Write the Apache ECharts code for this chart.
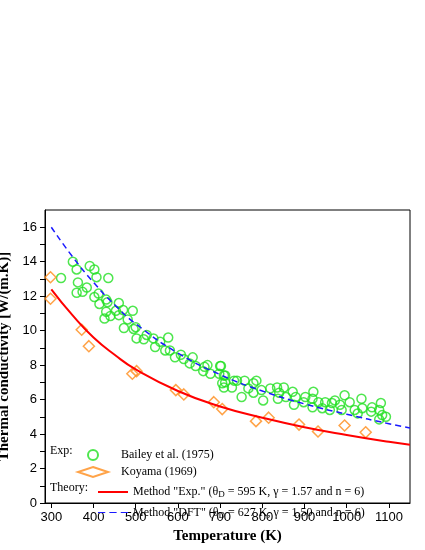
<!DOCTYPE html>
<html>
<head>
<meta charset="utf-8">
<script src="https://cdn.jsdelivr.net/npm/echarts@6/dist/echarts.min.js"></script>
<style>html,body{margin:0;padding:0;background:#fff}#c{width:425px;height:550px}</style>
</head>
<body>
<div id="c"></div>
<script>
// Bailey et al. (1975)
var baileyT = [351,360,391,402,407,435,323,363,360,374,384,412,402,430,433,414,460,430,453,470,493,440,426,460,481,472,495,500,502,519,526,542,558,546,577,570,581,593,607,614,635,628,642,663,670,660,700,677,698,712,733,705,728,
  702,709,712,709,740,758,751,779,786,767,779,798,802,819,835,851,840,856,837,872,879,875,902,898,921,919,933,919,942,949,965,972,960,984,995,988,1007,1019,1035,1026,1037,1060,1058,1081,1077,1084,1077,1093];
var baileyK = [14.0,13.55,13.75,13.55,13.1,13.05,13.05,12.8,12.2,12.25,12.5,12.15,11.95,11.8,11.65,11.55,11.6,11.1,11.15,11.2,11.15,10.85,10.7,10.9,10.65,10.15,10.1,10.2,9.55,9.5,9.75,9.55,9.35,9.05,9.6,8.85,8.85,8.45,8.6,8.35,8.45,8.1,7.95,7.9,8.0,7.65,7.95,7.5,7.5,7.4,7.1,6.95,6.7,
  7.95,7.4,7.0,6.7,7.1,7.1,6.15,6.95,7.1,6.65,6.4,6.55,5.95,6.65,6.7,6.7,6.4,6.15,6.05,6.45,6.15,5.7,6.15,5.85,6.45,6.05,5.85,5.55,5.5,5.85,5.8,5.95,5.4,5.7,6.25,5.4,5.85,5.4,6.05,5.2,5.5,5.55,5.3,5.8,5.4,5.1,4.85,5.0];
// Koyama (1969)
var koyamaT = [298,298,372,389,492,502,595,614,685,705,785,815,887,932,995,1045];
var koyamaK = [13.1,11.85,10.05,9.1,7.5,7.65,6.55,6.3,5.85,5.45,4.75,4.95,4.55,4.15,4.5,4.1];
// Theory curves
var expT = [300,350,400,450,500,600,700,800,900,1000,1100,1150];
var expK = [12.4,10.9,9.6,8.6,7.75,6.5,5.6,4.95,4.4,3.95,3.55,3.38];
var dftT = [300,350,400,450,500,600,700,800,900,1000,1100,1150];
var dftK = [16.0,14.3,12.8,11.5,10.4,8.7,7.45,6.5,5.75,5.15,4.6,4.35];
var xTicks = [300,400,500,600,700,800,900,1000,1100];
var yTicks = [0,2,4,6,8,10,12,14,16];

function pairs(a, b) { return a.map(function(v, i) { return [v, b[i]]; }); }

var font = 'Liberation Serif';
var chart = echarts.init(document.getElementById('c'));
var rich = { sub: { fontSize: 9, verticalAlign: 'bottom', padding: [6, 0, 0, 0], fontFamily: font, color: '#000' } };
chart.setOption({
  animation: false,
  textStyle: { fontFamily: font, color: '#000' },
  grid: { left: 45, right: 15, top: 210, bottom: 47, containLabel: false, outerBoundsMode: 'none',
          show: true, borderColor: '#000', borderWidth: 1 },
  xAxis: {
    type: 'value', min: 285, max: 1150,
    name: 'Temperature (K)', nameLocation: 'middle', nameGap: 26,
    nameTextStyle: { fontSize: 15, fontWeight: 'bold', fontFamily: font },
    axisLine: { lineStyle: { color: '#000' } },
    axisTick: { customValues: xTicks, length: 5 },
    axisLabel: { customValues: xTicks, fontSize: 13, fontFamily: 'Liberation Sans', color: '#000',
                 formatter: function(v) { return String(v); } },
    splitLine: { show: false }
  },
  yAxis: {
    type: 'value', min: 0, max: 17,
    name: 'Thermal conductivity [W/(m.K)]', nameLocation: 'middle', nameGap: 28,
    nameTextStyle: { fontSize: 15, fontWeight: 'bold', fontFamily: font },
    axisLine: { lineStyle: { color: '#000' } },
    axisTick: { customValues: [0,1,2,3,4,5,6,7,8,9,10,11,12,13,14,15,16], length: 5 },
    axisLabel: { customValues: yTicks, fontSize: 13, fontFamily: 'Liberation Sans', color: '#000' },
    splitLine: { show: false }
  },
  graphic: [
    { type: 'text', left: 50, top: 445, style: { text: 'Exp:', font: '12px "Liberation Serif"', fill: '#000' } },
    { type: 'text', left: 50, top: 482, style: { text: 'Theory:', font: '12px "Liberation Serif"', fill: '#000' } }
  ],
  legend: [
    { data: ['Bailey et al. (1975)', 'Koyama (1969)'], orient: 'vertical', left: 72, top: 444, itemGap: 5,
      itemWidth: 30, itemHeight: 10, textStyle: { fontSize: 12, fontFamily: font, color: '#000', padding: [0,0,0,8] } },
    { orient: 'vertical', left: 93, top: 481, itemGap: 7, itemWidth: 30, itemHeight: 2,
      data: [
        { name: 'exp', icon: 'rect' },
        { name: 'dft', icon: 'path://M0,0h7v1h-7zM11,0h7v1h-7zM22,0h7v1h-7z' }
      ],
      textStyle: { fontSize: 12, fontFamily: font, color: '#000', rich: rich },
      formatter: function(n) {
        return n === 'exp' ? 'Method "Exp." (θ{sub|D} = 595 K, γ = 1.57 and n = 6)'
                           : 'Method "DFT" (θ{sub|D} = 627 K, γ = 1.50 and n = 6)';
      } }
  ],
  series: [
    { name: 'Bailey et al. (1975)', type: 'scatter', data: pairs(baileyT, baileyK), symbol: 'circle', symbolSize: 9,
      itemStyle: { color: 'transparent', borderColor: '#22e022', borderWidth: 1.5 } },
    { name: 'Koyama (1969)', type: 'scatter', data: pairs(koyamaT, koyamaK), symbol: 'diamond', symbolSize: 11,
      itemStyle: { color: 'transparent', borderColor: '#ff8c1a', borderWidth: 1.5 } },
    { name: 'exp', type: 'line', data: pairs(expT, expK), smooth: true, showSymbol: false, symbol: 'none',
      lineStyle: { color: '#ff0000', width: 2 }, itemStyle: { color: '#ff0000' } },
    { name: 'dft', type: 'line', data: pairs(dftT, dftK), smooth: true, showSymbol: false, symbol: 'none',
      lineStyle: { color: '#1a1aff', width: 1.5, type: [6, 4] }, itemStyle: { color: '#1a1aff' } }
  ]
});
</script>
</body>
</html>
